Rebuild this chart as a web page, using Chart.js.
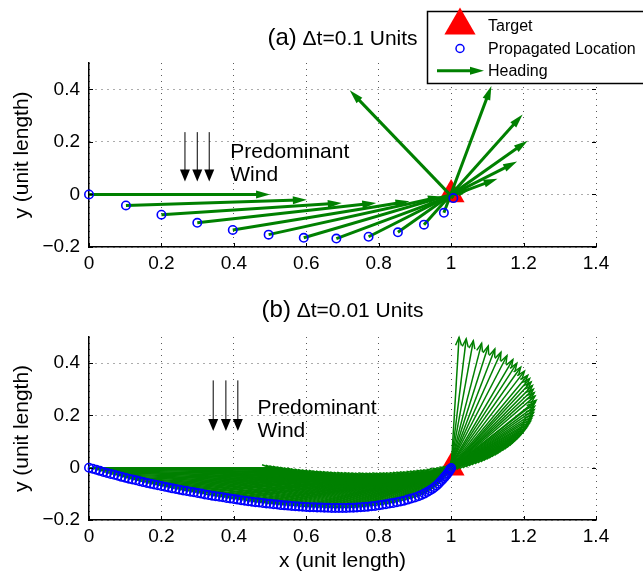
<!DOCTYPE html>
<html>
<head>
<meta charset="utf-8">
<script src="https://cdn.jsdelivr.net/npm/chart.js@4.4.1/dist/chart.umd.min.js"></script>
<style>
  html, body { margin: 0; padding: 0; background: #fff; }
  .panel { position: relative; width: 643px; }
</style>
</head>
<body>
<div class="panel" style="height:290px"><canvas id="chartA"></canvas></div>
<div class="panel" style="height:284px"><canvas id="chartB"></canvas></div>
<script>
// eixos
const xTicks = [0, 0.2, 0.4, 0.6, 0.8, 1, 1.2, 1.4];
const yTicks = [-0.2, 0, 0.2, 0.4];
const target = [1, 0];
const headingLength = 0.5;

// (a) dt = 0.1
const aPathX = [0, 0.102, 0.200, 0.299, 0.397, 0.496, 0.593, 0.683, 0.772, 0.853, 0.925, 0.980, 1.006];
const aPathY = [0, -0.042, -0.077, -0.108, -0.135, -0.153, -0.165, -0.168, -0.161, -0.144, -0.115, -0.070, -0.014];
const aHeading = [0, 2.5, 5.1, 8.7, 12.6, 16.9, 22, 27.1, 34.9, 44.2, 57, 74.8, 124.9];

// (b) dt = 0.01
const bPathX = [
  0, 0.01, 0.02, 0.03, 0.04, 0.05, 0.06, 0.07, 0.08, 0.09,
  0.10, 0.11, 0.12, 0.13, 0.14, 0.15, 0.16, 0.17, 0.18, 0.19,
  0.20, 0.21, 0.22, 0.23, 0.24, 0.25, 0.26, 0.27, 0.28, 0.29,
  0.30, 0.31, 0.32, 0.33, 0.34, 0.35, 0.36, 0.37, 0.38, 0.39,
  0.40, 0.41, 0.42, 0.43, 0.44, 0.45, 0.46, 0.47, 0.48, 0.49,
  0.50, 0.51, 0.52, 0.53, 0.54, 0.55, 0.56, 0.57, 0.58, 0.59,
  0.60, 0.61, 0.62, 0.63, 0.64, 0.65, 0.66, 0.67, 0.68, 0.69,
  0.70, 0.71, 0.72, 0.73, 0.74, 0.75, 0.76, 0.77, 0.78, 0.79,
  0.80, 0.81, 0.82, 0.83, 0.84, 0.85, 0.86, 0.87, 0.88, 0.89,
  0.900, 0.910, 0.918, 0.926, 0.934, 0.941, 0.948, 0.954, 0.960, 0.965,
  0.970, 0.975, 0.979, 0.983, 0.987, 0.990, 0.993, 0.996, 0.998, 1.000
];
const bPathY = [
  0, -0.004, -0.008, -0.012, -0.016, -0.020, -0.024, -0.027, -0.031, -0.035,
  -0.038, -0.042, -0.045, -0.048, -0.052, -0.055, -0.058, -0.061, -0.064, -0.067,
  -0.070, -0.073, -0.076, -0.079, -0.081, -0.084, -0.087, -0.089, -0.092, -0.094,
  -0.097, -0.099, -0.102, -0.104, -0.107, -0.109, -0.111, -0.113, -0.116, -0.118,
  -0.120, -0.122, -0.124, -0.126, -0.128, -0.130, -0.132, -0.133, -0.135, -0.137,
  -0.138, -0.140, -0.141, -0.143, -0.144, -0.145, -0.146, -0.147, -0.148, -0.149,
  -0.150, -0.151, -0.151, -0.152, -0.152, -0.153, -0.153, -0.154, -0.154, -0.154,
  -0.154, -0.154, -0.153, -0.153, -0.152, -0.151, -0.150, -0.149, -0.147, -0.146,
  -0.144, -0.142, -0.140, -0.137, -0.135, -0.132, -0.129, -0.126, -0.122, -0.118,
  -0.114, -0.109, -0.104, -0.099, -0.093, -0.087, -0.081, -0.075, -0.068, -0.061,
  -0.054, -0.047, -0.040, -0.034, -0.028, -0.022, -0.016, -0.010, -0.005, -0.001
];
const bHeading = [
  0, 0.2, 0.5, 0.7, 1.0, 1.2, 1.5, 1.7, 1.9, 2.2,
  2.4, 2.7, 2.9, 3.2, 3.5, 3.7, 4.0, 4.2, 4.5, 4.7,
  5.0, 5.3, 5.6, 5.9, 6.1, 6.4, 6.7, 7.0, 7.3, 7.5,
  7.9, 8.2, 8.5, 8.8, 9.2, 9.5, 9.8, 10.2, 10.6, 11.0,
  11.3, 11.7, 12.1, 12.5, 12.9, 13.3, 13.7, 14.1, 14.6, 15.0,
  15.4, 16.0, 16.4, 16.9, 17.4, 17.9, 18.4, 18.9, 19.4, 20.0,
  20.6, 21.2, 21.7, 22.3, 22.9, 23.6, 24.2, 25.0, 25.7, 26.4,
  27.2, 28.0, 28.7, 29.5, 30.3, 31.1, 32.0, 32.9, 33.8, 34.8,
  35.8, 36.8, 37.9, 38.9, 40.2, 41.4, 42.7, 44.1, 45.5, 47.0,
  48, 50, 51.5, 53, 54.5, 56, 57.5, 59, 61, 63,
  65, 67, 69.5, 72, 74.5, 77, 79.5, 82.5, 85, 87.5
];

// seta do vento (x das 3 setas, y topo -> ponta) e texto
const aWindX = [0.265, 0.299, 0.332];
const aWindY = [0.237, 0.049];
const bWindX = [0.343, 0.378, 0.411];
const bWindY = [0.334, 0.140];

const FONT = '"Liberation Sans", Arial, Helvetica, sans-serif';
const GREEN = '#008000';
const BLUE = '#0000ff';
const RED = '#ff0000';
Chart.defaults.font.family = FONT;
Chart.defaults.color = '#000';

function fmt(v) {
    const r = Math.round(v * 10) / 10;
    return r < 0 ? '\u2212' + (-r) : String(r);
}

function arrowHead(ctx, x0, y0, x1, y1, len, half, filled) {
    const ang = Math.atan2(y1 - y0, x1 - x0);
    const bx = x1 - len * Math.cos(ang), by = y1 - len * Math.sin(ang);
    const px = -Math.sin(ang) * half, py = Math.cos(ang) * half;
    ctx.beginPath();
    ctx.moveTo(bx + px, by + py);
    ctx.lineTo(x1, y1);
    ctx.lineTo(bx - px, by - py);
    if (filled) { ctx.closePath(); ctx.fill(); } else { ctx.stroke(); }
}

function arrow(ctx, x0, y0, x1, y1, st) {
    const ang = Math.atan2(y1 - y0, x1 - x0);
    const back = st.filled ? st.head * 0.6 : 0;
    ctx.beginPath();
    ctx.moveTo(x0, y0);
    ctx.lineTo(x1 - back * Math.cos(ang), y1 - back * Math.sin(ang));
    ctx.stroke();
    arrowHead(ctx, x0, y0, x1, y1, st.head, st.half, st.filled);
}

function drawHeadings(chart, xs, ys, hd, st) {
    const {ctx, scales: {x, y}} = chart;
    ctx.save();
    ctx.strokeStyle = GREEN;
    ctx.fillStyle = GREEN;
    ctx.lineWidth = st.width;
    ctx.lineJoin = 'miter';
    for (let i = 0; i < xs.length; i++) {
        const a = hd[i] * Math.PI / 180;
        const x0 = x.getPixelForValue(xs[i]);
        const y0 = y.getPixelForValue(ys[i]);
        const x1 = x.getPixelForValue(xs[i] + headingLength * Math.cos(a));
        const y1 = y.getPixelForValue(ys[i] + headingLength * Math.sin(a));
        arrow(ctx, x0, y0, x1, y1, st);
    }
    ctx.restore();
}

function drawWind(chart, wx, wy, tx, ty) {
    const {ctx, scales: {x, y}} = chart;
    ctx.save();
    ctx.strokeStyle = '#000';
    ctx.fillStyle = '#000';
    ctx.lineWidth = 1;
    wx.forEach(v => {
        const px = x.getPixelForValue(v);
        arrow(ctx, px, y.getPixelForValue(wy[0]), px, y.getPixelForValue(wy[1]),
              {head: 12, half: 5, filled: true});
    });
    ctx.font = '21px ' + FONT;
    ctx.textAlign = 'left';
    ctx.textBaseline = 'alphabetic';
    ctx.fillText('Predominant', x.getPixelForValue(tx), y.getPixelForValue(ty[0]));
    ctx.fillText('Wind', x.getPixelForValue(tx), y.getPixelForValue(ty[1]));
    ctx.restore();
}

function drawTitle(chart, tag, rest, base) {
    const {ctx, chartArea} = chart;
    const cx = (chartArea.left + chartArea.right) / 2;
    ctx.save();
    ctx.fillStyle = '#000';
    ctx.textAlign = 'left';
    ctx.textBaseline = 'alphabetic';
    ctx.font = '24px ' + FONT;
    const w1 = ctx.measureText(tag).width;
    ctx.font = '21px ' + FONT;
    const w2 = ctx.measureText(rest).width;
    const x0 = cx - (w1 + w2) / 2;
    ctx.font = '24px ' + FONT;
    ctx.fillText(tag, x0, base);
    ctx.font = '21px ' + FONT;
    ctx.fillText(rest, x0 + w1, base);
    ctx.restore();
}

// marcas de escala para dentro, como no MATLAB
function drawInnerTicks(chart) {
    const {ctx, chartArea: a, scales: {x, y}} = chart;
    ctx.save();
    ctx.strokeStyle = '#000';
    ctx.lineWidth = 1;
    ctx.beginPath();
    xTicks.forEach(v => {
        const px = Math.round(x.getPixelForValue(v)) + 0.5;
        ctx.moveTo(px, a.bottom); ctx.lineTo(px, a.bottom - 4);
    });
    yTicks.forEach(v => {
        const py = Math.round(y.getPixelForValue(v)) + 0.5;
        ctx.moveTo(a.left, py); ctx.lineTo(a.left + 4, py);
        ctx.moveTo(a.right, py); ctx.lineTo(a.right - 4, py);
    });
    ctx.stroke();
    ctx.restore();
}

function drawLegend(ctx) {
    ctx.save();
    ctx.fillStyle = '#fff';
    ctx.fillRect(427.5, 11.5, 240, 72);
    ctx.strokeStyle = '#000';
    ctx.lineWidth = 1.5;
    ctx.strokeRect(427.5, 11.5, 240, 72);
    // triângulo
    const r = 18, cx = 460, cy = 25.5;
    ctx.fillStyle = RED;
    ctx.beginPath();
    ctx.moveTo(cx, cy - r);
    ctx.lineTo(cx + r * Math.sin(Math.PI / 3), cy + r / 2);
    ctx.lineTo(cx - r * Math.sin(Math.PI / 3), cy + r / 2);
    ctx.closePath();
    ctx.fill();
    // círculo
    ctx.strokeStyle = BLUE;
    ctx.lineWidth = 1.5;
    ctx.beginPath();
    ctx.arc(460, 48.5, 4, 0, Math.PI * 2);
    ctx.stroke();
    // seta
    ctx.strokeStyle = GREEN;
    ctx.fillStyle = GREEN;
    ctx.lineWidth = 3;
    arrow(ctx, 437, 70.7, 484, 70.7, {head: 14, half: 4, filled: true});
    // textos
    ctx.fillStyle = '#000';
    ctx.font = '16px ' + FONT;
    ctx.textBaseline = 'alphabetic';
    ctx.fillText('Target', 488, 31);
    ctx.fillText('Propagated Location', 488, 54.3);
    ctx.fillText('Heading', 488, 76.3);
    ctx.restore();
}

function decor(cfg) {
    return {
        id: 'decor',
        afterDatasetDraw(chart, args) {
            if (args.index !== 1) return;
            drawHeadings(chart, cfg.px, cfg.py, cfg.hd, cfg.arrow);
        },
        afterDraw(chart) {
            drawInnerTicks(chart);
            drawWind(chart, cfg.windX, cfg.windY, cfg.textX, cfg.textY);
            drawTitle(chart, cfg.tag, cfg.title, cfg.titleBase);
            if (cfg.legend) drawLegend(chart.ctx);
        }
    };
}

function makeChart(id, px, py, opts) {
    const ctx = document.getElementById(id);
    return new Chart(ctx, {
        type: 'scatter',
        data: {
            datasets: [
                {
                    label: 'Propagated Location',
                    data: px.map((v, i) => ({x: v, y: py[i]})),
                    pointStyle: 'circle',
                    pointRadius: 4.2,
                    pointBorderWidth: 1.6,
                    pointBorderColor: BLUE,
                    pointBackgroundColor: 'rgba(0,0,0,0)',
                    showLine: false,
                    clip: false
                },
                {
                    label: 'Target',
                    data: [{x: target[0], y: target[1]}],
                    pointStyle: 'triangle',
                    pointRadius: 15.5,
                    pointBorderWidth: 0,
                    pointBackgroundColor: RED,
                    clip: false
                }
            ]
        },
        options: {
            responsive: true,
            maintainAspectRatio: false,
            animation: false,
            events: [],
            layout: {padding: {left: 0, right: 47, top: opts.top, bottom: 0}},
            plugins: {legend: {display: false}, tooltip: {enabled: false}, title: {display: false}},
            scales: {
                x: {
                    type: 'linear', min: 0, max: 1.4,
                    afterBuildTicks: s => { s.ticks = xTicks.map(v => ({value: v})); },
                    afterFit: s => { s.height = opts.xh; },
                    grid: {color: 'rgba(0,0,0,0.65)', lineWidth: 1, drawTicks: false},
                    border: {display: true, color: '#000', width: 1.5, dash: [1, 5]},
                    ticks: {font: {size: 19}, padding: 5, autoSkip: false, maxRotation: 0, callback: fmt},
                    title: {display: opts.xTitle, text: 'x (unit length)', font: {size: 21}, padding: {top: 0, bottom: 0}}
                },
                y: {
                    type: 'linear', min: -0.2, max: 0.5,
                    afterBuildTicks: s => { s.ticks = yTicks.map(v => ({value: v})); },
                    afterFit: s => { s.width = 89; },
                    grid: {color: 'rgba(0,0,0,0.65)', lineWidth: 1, drawTicks: false},
                    border: {display: true, color: '#000', width: 1.5, dash: [1, 5]},
                    ticks: {font: {size: 19}, padding: 9, autoSkip: false, callback: fmt},
                    title: {display: true, text: 'y (unit length)', font: {size: 21}, padding: {top: 10, bottom: 0}}
                }
            }
        },
        plugins: [decor(opts.decor)]
    });
}

makeChart('chartA', aPathX, aPathY, {
    top: 63, xh: 43, xTitle: false,
    decor: {
        px: aPathX, py: aPathY, hd: aHeading,
        arrow: {width: 3, head: 14, half: 4, filled: true},
        windX: aWindX, windY: aWindY, textX: 0.39, textY: [0.139, 0.052],
        tag: '(a)', title: ' \u0394t=0.1 Units', titleBase: 45, legend: true
    }
});

makeChart('chartB', bPathX, bPathY, {
    top: 47, xh: 54, xTitle: true,
    decor: {
        px: bPathX, py: bPathY, hd: bHeading,
        arrow: {width: 1.5, head: 8, half: 3, filled: false},
        windX: bWindX, windY: bWindY, textX: 0.465, textY: [0.207, 0.118],
        tag: '(b)', title: ' \u0394t=0.01 Units', titleBase: 27, legend: false
    }
});
</script>
</body>
</html>
